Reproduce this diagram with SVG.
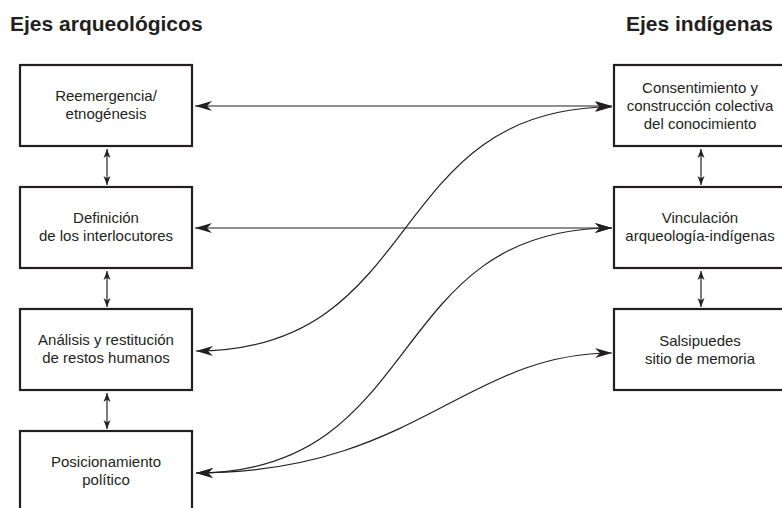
<svg xmlns="http://www.w3.org/2000/svg" width="782" height="508" viewBox="0 0 782 508">
<style>
.box{fill:#fff;stroke:#231f20;stroke-width:2.2}
.t{font-family:"Liberation Sans",Arial,sans-serif;font-size:15px;fill:#231f20;text-anchor:middle}
.title{font-family:"Liberation Sans",Arial,sans-serif;font-size:21px;font-weight:bold;fill:#231f20}
.c{fill:none;stroke:#231f20;stroke-width:1.2}
.big{marker-start:url(#ab);marker-end:url(#ab)}
.sm{marker-start:url(#as);marker-end:url(#as)}
</style>
<defs>
<marker id="ab" markerUnits="userSpaceOnUse" markerWidth="18" markerHeight="12" viewBox="0 -6 18 12" refX="17" refY="0" orient="auto-start-reverse">
<path d="M0,-5 L17,0 L0,5 L5,0 Z" fill="#231f20"/>
</marker>
<marker id="as" markerUnits="userSpaceOnUse" markerWidth="10" markerHeight="8" viewBox="0 -4 10 8" refX="9" refY="0" orient="auto-start-reverse">
<path d="M0,-3.5 L9,0 L0,3.5 L2.5,0 Z" fill="#231f20"/>
</marker>
</defs>
<rect width="782" height="508" fill="#fff"/>
<text class="title" x="10" y="31">Ejes arqueológicos</text>
<text class="title" x="773" y="31" text-anchor="end">Ejes indígenas</text>
<g id="connectors">
<path class="c big" d="M195,106 L612,106"/>
<path class="c big" d="M195,228 L612,228"/>
<path class="c big" d="M196,351 C427,351 383,107 612,107"/>
<path class="c big" d="M196,473 C427,473 383,228 612,228"/>
<path class="c big" d="M196,473 C415,473 465,353 612,353"/>
<path class="c sm" d="M107,149 L107,185"/>
<path class="c sm" d="M107,271 L107,307"/>
<path class="c sm" d="M107,393 L107,429"/>
<path class="c sm" d="M701,149 L701,185"/>
<path class="c sm" d="M701,271 L701,307"/>
</g>
<g id="reemergencia">
<rect class="box" x="20" y="65" width="172" height="81"/>
<text class="t" x="106" y="101">Reemergencia/</text>
<text class="t" x="106" y="119">etnogénesis</text>
</g>
<g id="definicion">
<rect class="box" x="20" y="187" width="172" height="81"/>
<text class="t" x="106" y="223">Definición</text>
<text class="t" x="106" y="241">de los interlocutores</text>
</g>
<g id="analisis">
<rect class="box" x="20" y="309" width="172" height="81"/>
<text class="t" x="106" y="345">Análisis y restitución</text>
<text class="t" x="106" y="363">de restos humanos</text>
</g>
<g id="posicionamiento">
<rect class="box" x="20" y="431" width="172" height="90"/>
<text class="t" x="106" y="467">Posicionamiento</text>
<text class="t" x="106" y="485">político</text>
</g>
<g id="consentimiento">
<rect class="box" x="614" y="65" width="180" height="81"/>
<text class="t" x="700" y="93">Consentimiento y</text>
<text class="t" x="700" y="111">construcción colectiva</text>
<text class="t" x="700" y="129">del conocimiento</text>
</g>
<g id="vinculacion">
<rect class="box" x="614" y="187" width="180" height="81"/>
<text class="t" x="700" y="223">Vinculación</text>
<text class="t" x="700" y="241">arqueología-indígenas</text>
</g>
<g id="salsipuedes">
<rect class="box" x="614" y="309" width="180" height="81"/>
<text class="t" x="700" y="346">Salsipuedes</text>
<text class="t" x="700" y="364">sitio de memoria</text>
</g>
</svg>
